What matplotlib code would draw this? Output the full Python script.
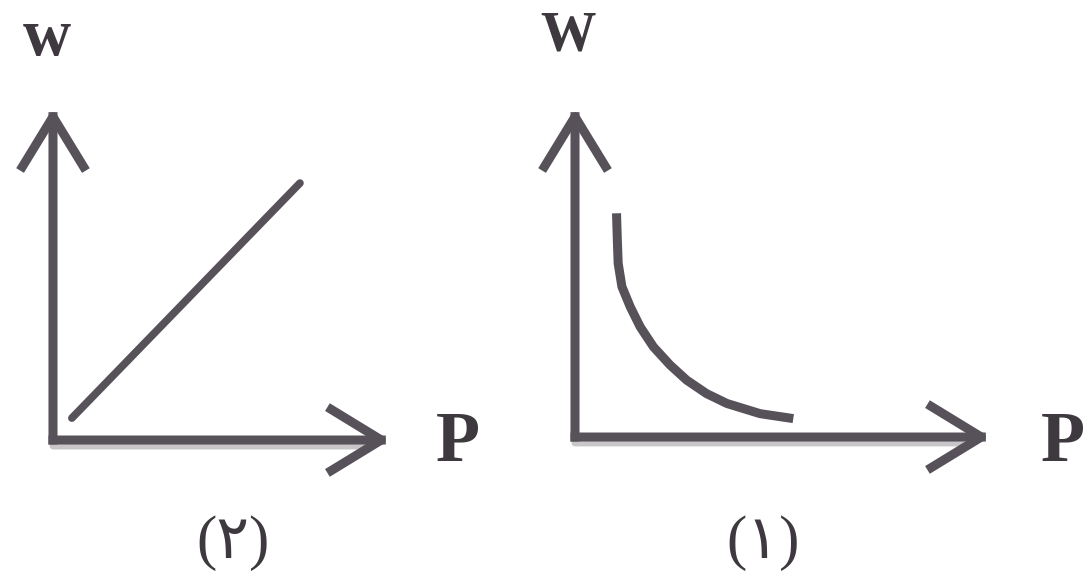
import matplotlib
matplotlib.use("Agg")
import matplotlib.pyplot as plt

# Graph (2): straight line, W grows with P
p_line = [0.56, 7.33]
w_line = [0.66, 7.74]

# Graph (1): falling curve, W drops as P grows
p_curve = [1.00, 1.02, 1.04, 1.13, 1.33, 1.57, 1.89, 2.29, 2.69, 3.17, 3.66, 4.46, 5.26]
w_curve = [6.80, 5.99, 5.28, 4.57, 3.96, 3.35, 2.74, 2.19, 1.73, 1.32, 1.02, 0.71, 0.56]

panel_labels = ["(\u0662)", "(\u0661)"]
y_labels = ["w", "W"]
x_label = "P"

ink = "#57515a"
text_ink = "#3e393e"
serif = ["Liberation Serif", "DejaVu Serif"]
mixed = ["Liberation Serif", "DejaVu Sans"]

fig = plt.figure(figsize=(10.88, 5.77), dpi=100)
fig.patch.set_facecolor("white")

ax_left = fig.add_axes([0.0487, 0.2374, 0.3097, 0.5754])
ax_right = fig.add_axes([0.5285, 0.2426, 0.3814, 0.5702])

arrow_props = dict(
    arrowstyle="->,head_length=0.9,head_width=0.55",
    lw=6.5,
    color=ink,
    mutation_scale=40,
    shrinkA=0,
    shrinkB=0,
    capstyle="projecting",
)

for ax in (ax_left, ax_right):
    ax.set_xlim(0, 10)
    ax.set_ylim(0, 10)
    ax.axis("off")
    # light shadow under the P axis
    ax.annotate("", xy=(0.93, -0.018), xytext=(0.0, -0.018), xycoords="axes fraction",
                arrowprops=dict(arrowstyle="-", lw=5, color="#c9c6c9", shrinkA=0, shrinkB=0))
    ax.annotate("", xy=(1.0, 0.0), xytext=(0.0, 0.0), xycoords="axes fraction",
                arrowprops=arrow_props)
    ax.annotate("", xy=(0.0, 1.0), xytext=(0.0, 0.0), xycoords="axes fraction",
                arrowprops=arrow_props)

ax_left.plot(p_line, w_line, color=ink, lw=5.5, solid_capstyle="round")
ax_right.plot(p_curve, w_curve, color=ink, lw=6.5, solid_capstyle="butt",
              solid_joinstyle="round")

# axis names
fig.text(0.043, 0.934, y_labels[0], family=serif, fontsize=48, color=text_ink,
         weight="bold", ha="center", va="center")
fig.text(0.522, 0.936, y_labels[1], family=serif, fontsize=40, color=text_ink,
         weight="bold", ha="center", va="center")
fig.text(0.421, 0.232, x_label, family=serif, fontsize=52, color=text_ink,
         weight="bold", ha="center", va="center")
fig.text(0.977, 0.232, x_label, family=serif, fontsize=52, color=text_ink,
         weight="bold", ha="center", va="center")

# panel numbers
fig.text(0.214, 0.059, panel_labels[0], family=mixed, fontsize=44, color=text_ink,
         ha="center", va="center")
fig.text(0.701, 0.059, panel_labels[1], family=mixed, fontsize=44, color=text_ink,
         ha="center", va="center")

fig.savefig("out.png", dpi=100)
plt.close(fig)
